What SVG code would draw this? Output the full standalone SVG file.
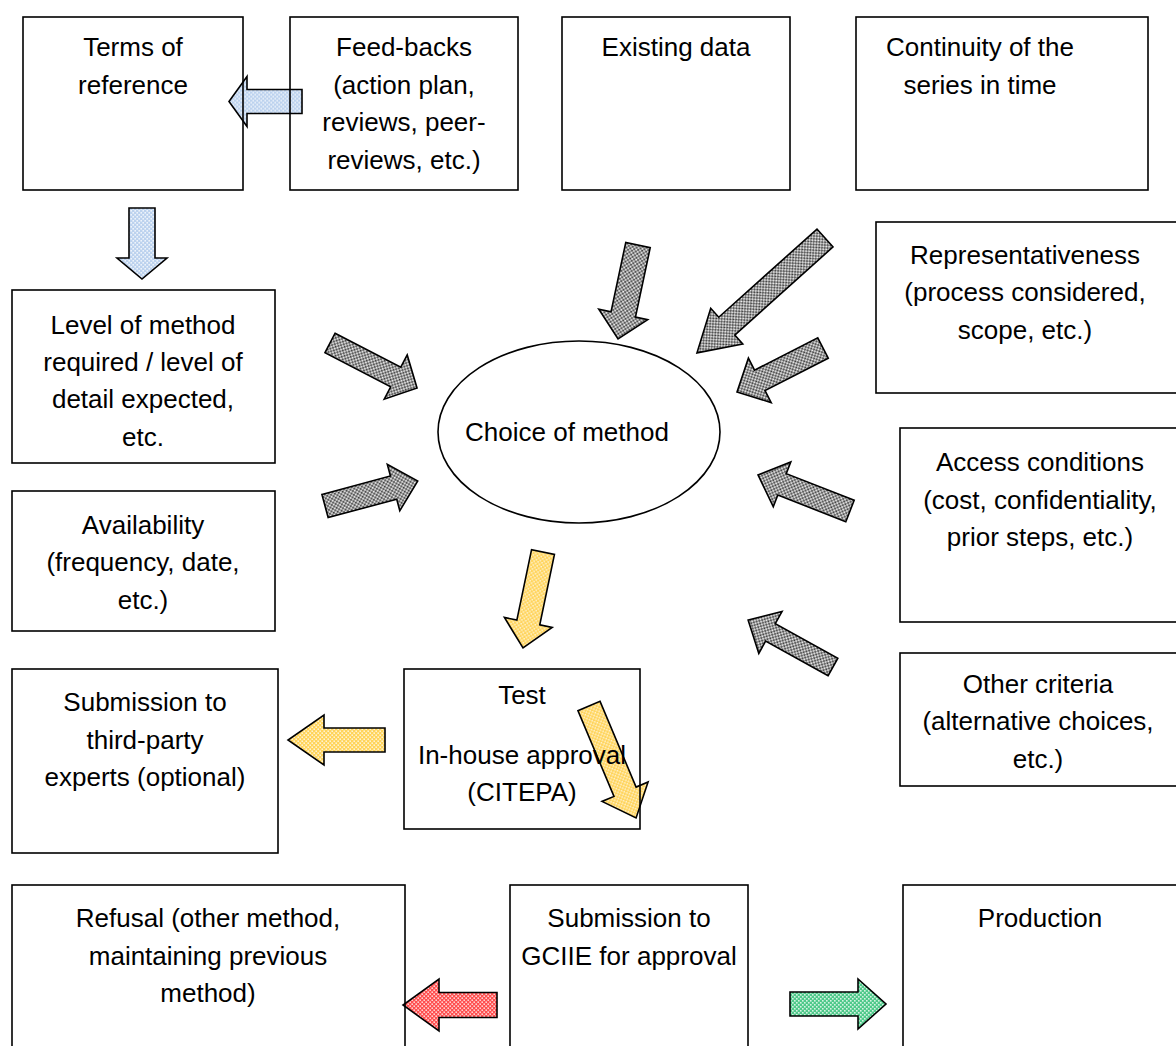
<svg xmlns="http://www.w3.org/2000/svg" width="1176" height="1046" viewBox="0 0 1176 1046">
  <defs>
    <!-- dotted fills for the block arrows -->
    <pattern id="dotGray" width="4" height="4" patternUnits="userSpaceOnUse">
      <rect width="4" height="4" fill="#8c8c8c"/>
      <rect x="0" y="0" width="1.6" height="1.6" fill="#f0f0f0"/>
      <rect x="2" y="2" width="1.6" height="1.6" fill="#f0f0f0"/>
      <rect x="2" y="0" width="1.4" height="1.4" fill="#3a3a3a"/>
      <rect x="0" y="2" width="1.4" height="1.4" fill="#3a3a3a"/>
    </pattern>
    <pattern id="dotBlue" width="4" height="4" patternUnits="userSpaceOnUse">
      <rect width="4" height="4" fill="#bcd2ee"/>
      <rect x="0" y="0" width="1.6" height="1.6" fill="#eef4fb"/>
      <rect x="2" y="2" width="1.6" height="1.6" fill="#eef4fb"/>
    </pattern>
    <pattern id="dotYellow" width="4" height="4" patternUnits="userSpaceOnUse">
      <rect width="4" height="4" fill="#ffd45c"/>
      <rect x="0" y="0" width="1.6" height="1.6" fill="#fff3cf"/>
      <rect x="2" y="2" width="1.6" height="1.6" fill="#fff3cf"/>
    </pattern>
    <pattern id="dotRed" width="4" height="4" patternUnits="userSpaceOnUse">
      <rect width="4" height="4" fill="#ff5050"/>
      <rect x="0" y="0" width="1.6" height="1.6" fill="#ffd0d0"/>
      <rect x="2" y="2" width="1.6" height="1.6" fill="#ffd0d0"/>
    </pattern>
    <pattern id="dotGreen" width="4" height="4" patternUnits="userSpaceOnUse">
      <rect width="4" height="4" fill="#4fc98a"/>
      <rect x="0" y="0" width="1.6" height="1.6" fill="#d5f3e2"/>
      <rect x="2" y="2" width="1.6" height="1.6" fill="#d5f3e2"/>
    </pattern>
  </defs>
  <style>
    .box { fill: none; stroke: #000000; stroke-width: 1.6; }
    .lbl { font-family: "Liberation Sans", Arial, sans-serif; font-size: 26px; fill: #000000; text-anchor: middle; }
    .arw { stroke: #000000; stroke-width: 1.6; stroke-linejoin: miter; }
    .gray { fill: url(#dotGray); }
    .blue { fill: url(#dotBlue); }
    .yellow { fill: url(#dotYellow); }
    .red { fill: url(#dotRed); }
    .green { fill: url(#dotGreen); }
  </style>

  <rect width="1176" height="1046" fill="#ffffff"/>

  <!-- connectors: block arrows drawn along +x from the tail, then placed;
       they sit under the boxes so borders and labels stay on top -->
  <g id="connectors">
    <!-- feed-backs to terms of reference -->
    <path class="arw blue" transform="translate(302,101.5) rotate(180)" d="M0,-12 H55 V-25 L73,0 L55,25 V12 H0 Z"/>
    <!-- terms of reference to level of method -->
    <path class="arw blue" transform="translate(142,208) rotate(90)" d="M0,-13 H50 V-25 L71,0 L50,25 V13 H0 Z"/>
    <!-- criteria towards the choice of method -->
    <path class="arw gray" transform="translate(330,343) rotate(27.35)" d="M0,-11 H74 V-25 L98,0 L74,25 V11 H0 Z"/>
    <path class="arw gray" transform="translate(325,506) rotate(-15.05)" d="M0,-12 H71 V-24 L96,0 L71,24 V12 H0 Z"/>
    <path class="arw gray" transform="translate(638,245) rotate(102)" d="M0,-12.5 H71 V-25 L96,0 L71,25 V12.5 H0 Z"/>
    <path class="arw gray" transform="translate(825,238) rotate(138.1)" d="M0,-12 H132 V-24 L172,0 L132,24 V12 H0 Z"/>
    <path class="arw gray" transform="translate(823,348) rotate(152.9)" d="M0,-11.5 H71 V-25 L96.6,0 L71,25 V11.5 H0 Z"/>
    <path class="arw gray" transform="translate(850,511) rotate(201.4)" d="M0,-11.5 H73 V-24 L98.8,0 L73,24 V11.5 H0 Z"/>
    <path class="arw gray" transform="translate(833,667) rotate(208.95)" d="M0,-10 H71.5 V-24 L97,0 L71.5,24 V10 H0 Z"/>
    <!-- choice of method to test -->
    <path class="arw yellow" transform="translate(543,552) rotate(101.77)" d="M0,-11.7 H72 V-24.4 L98,0 L72,24.4 V11.7 H0 Z"/>
    <!-- test to third-party experts -->
    <path class="arw yellow" transform="translate(385,740) rotate(180)" d="M0,-12 H61 V-25 L97,0 L61,25 V12 H0 Z"/>
    <!-- test to GCIIE -->
    <path class="arw yellow" transform="translate(589,706) rotate(67.2)" d="M0,-12 H93 V-25 L121.5,0 L93,25 V12 H0 Z"/>
    <!-- GCIIE to refusal / production -->
    <path class="arw red" transform="translate(497,1005) rotate(180)" d="M0,-12.5 H58 V-26 L94,0 L58,26 V12.5 H0 Z"/>
    <path class="arw green" transform="translate(790,1004)" d="M0,-12 H68 V-25 L96,0 L68,25 V12 H0 Z"/>
  </g>

  <!-- nodes -->
  <g id="terms">
    <rect class="box" x="23" y="17" width="220" height="173"/>
    <text class="lbl" x="133" y="56">Terms of</text>
    <text class="lbl" x="133" y="94">reference</text>
  </g>
  <g id="feedbacks">
    <rect class="box" x="290" y="17" width="228" height="173"/>
    <text class="lbl" x="404" y="56">Feed-backs</text>
    <text class="lbl" x="404" y="94">(action plan,</text>
    <text class="lbl" x="404" y="131">reviews, peer-</text>
    <text class="lbl" x="404" y="169">reviews, etc.)</text>
  </g>
  <g id="existing">
    <rect class="box" x="562" y="17" width="228" height="173"/>
    <text class="lbl" x="676" y="56">Existing data</text>
  </g>
  <g id="continuity">
    <rect class="box" x="856" y="17" width="292" height="173"/>
    <text class="lbl" x="980" y="56">Continuity of the</text>
    <text class="lbl" x="980" y="94">series in time</text>
  </g>
  <g id="level">
    <rect class="box" x="12" y="290" width="263" height="173"/>
    <text class="lbl" x="143" y="334">Level of method</text>
    <text class="lbl" x="143" y="371">required / level of</text>
    <text class="lbl" x="143" y="408">detail expected,</text>
    <text class="lbl" x="143" y="446">etc.</text>
  </g>
  <g id="representativeness">
    <rect class="box" x="876" y="222" width="304" height="171"/>
    <text class="lbl" x="1025" y="264">Representativeness</text>
    <text class="lbl" x="1025" y="301">(process considered,</text>
    <text class="lbl" x="1025" y="339">scope, etc.)</text>
  </g>
  <g id="availability">
    <rect class="box" x="12" y="491" width="263" height="140"/>
    <text class="lbl" x="143" y="534">Availability</text>
    <text class="lbl" x="143" y="571">(frequency, date,</text>
    <text class="lbl" x="143" y="609">etc.)</text>
  </g>
  <g id="access">
    <rect class="box" x="900" y="428" width="280" height="194"/>
    <text class="lbl" x="1040" y="471">Access conditions</text>
    <text class="lbl" x="1040" y="509">(cost, confidentiality,</text>
    <text class="lbl" x="1040" y="546">prior steps, etc.)</text>
  </g>
  <g id="choice">
    <ellipse class="box" cx="579" cy="432" rx="141" ry="91"/>
    <text class="lbl" x="567" y="441">Choice of method</text>
  </g>
  <g id="third-party">
    <rect class="box" x="12" y="669" width="266" height="184"/>
    <text class="lbl" x="145" y="711">Submission to</text>
    <text class="lbl" x="145" y="749">third-party</text>
    <text class="lbl" x="145" y="786">experts (optional)</text>
  </g>
  <g id="test">
    <rect class="box" x="404" y="669" width="236" height="160"/>
    <text class="lbl" x="522" y="704">Test</text>
    <text class="lbl" x="522" y="764">In-house approval</text>
    <text class="lbl" x="522" y="801">(CITEPA)</text>
  </g>
  <g id="other">
    <rect class="box" x="900" y="653" width="280" height="133"/>
    <text class="lbl" x="1038" y="693">Other criteria</text>
    <text class="lbl" x="1038" y="730">(alternative choices,</text>
    <text class="lbl" x="1038" y="768">etc.)</text>
  </g>
  <g id="refusal">
    <rect class="box" x="12" y="885" width="393" height="170"/>
    <text class="lbl" x="208" y="927">Refusal (other method,</text>
    <text class="lbl" x="208" y="965">maintaining previous</text>
    <text class="lbl" x="208" y="1002">method)</text>
  </g>
  <g id="gciie">
    <rect class="box" x="510" y="885" width="238" height="170"/>
    <text class="lbl" x="629" y="927">Submission to</text>
    <text class="lbl" x="629" y="965">GCIIE for approval</text>
  </g>
  <g id="production">
    <rect class="box" x="903" y="885" width="280" height="170"/>
    <text class="lbl" x="1040" y="927">Production</text>
  </g>
</svg>
